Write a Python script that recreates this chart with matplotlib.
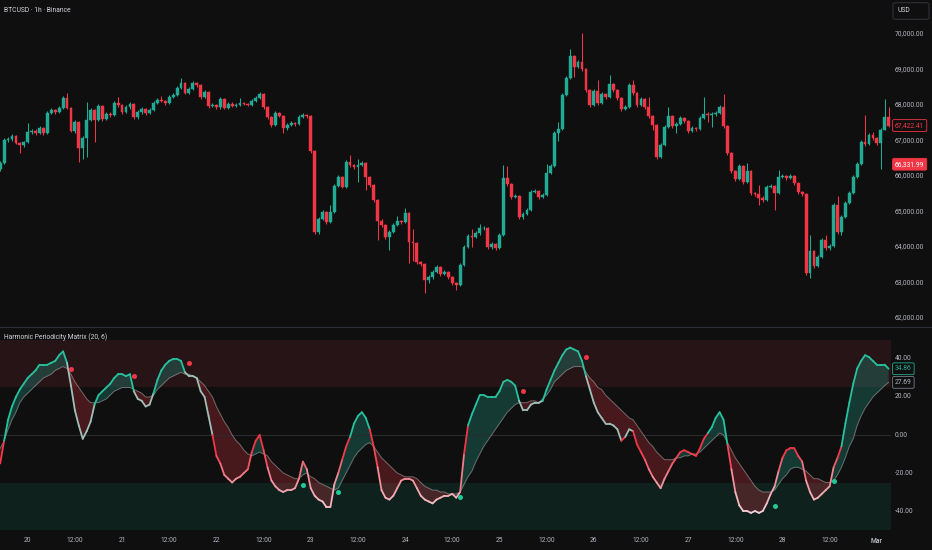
import matplotlib
matplotlib.use("Agg")
import matplotlib.pyplot as plt
import numpy as np
from matplotlib import transforms
from matplotlib.collections import LineCollection
from matplotlib.colors import LinearSegmentedColormap
from matplotlib.lines import Line2D
from matplotlib.patches import FancyBboxPatch

plt.rcParams['font.family'] = ['Roboto', 'DejaVu Sans']

# heures depuis le 20 fev 00:00, une bougie par heure
hours = list(range(-7, 220))
first_open = 66200
closes = [
    66370, 67010, 67040, 67130, 66930, 66870, 66960, 67240, 67270, 67220,
    67350, 67210, 67770, 67860, 67800, 67920, 68200, 67920, 67270, 67520,
    66790, 67070, 67580, 67860, 67580, 67970, 67610, 67750, 67720, 68060,
    68000, 67800, 67940, 68030, 67660, 67800, 67890, 67770, 67860, 68060,
    68140, 68120, 68060, 68230, 68280, 68480, 68620, 68340, 68450, 68620,
    68560, 68230, 68370, 67970, 68000, 67940, 68170, 67920, 68030, 67980,
    68000, 68060, 68030, 68010, 68110, 68200, 68310, 67940, 67660, 67440,
    67770, 67700, 67350, 67440, 67490, 67470, 67660, 67720, 67690, 66700,
    64420, 64790, 64990, 64700, 64990, 65720, 65970, 65690, 66390, 66310,
    66250, 66310, 66370, 65970, 65750, 65320, 64730, 64620, 64280, 64420,
    64620, 64730, 64700, 64960, 64140, 64110, 63580, 63520, 63070, 63160,
    63300, 63440, 63240, 63300, 63160, 62990, 62930, 63490, 64000, 64310,
    64280, 64390, 64530, 64540, 63990, 64080, 63960, 64340, 65940, 65780,
    65410, 65440, 64850, 64930, 65040, 65550, 65580, 65410, 65470, 66080,
    66280, 67210, 67320, 68280, 68760, 69380, 69070, 69210, 69010, 68420,
    68000, 68390, 68060, 68310, 68230, 68590, 68420, 68200, 67890, 67940,
    68560, 68340, 68000, 68170, 67940, 67690, 67440, 66540, 66870, 67380,
    67690, 67410, 67470, 67630, 67550, 67270, 67350, 67320, 67630, 67750,
    67720, 67750, 67770, 67940, 67410, 66650, 66140, 65920, 66280, 65830,
    66140, 65520, 65490, 65380, 65330, 65690, 65720, 65520, 65970, 66000,
    65940, 66000, 65800, 65550, 65500, 63270, 63890, 63460, 63720, 64200,
    63970, 64030, 65180, 64420, 64850, 65240, 65520, 65970, 66340, 66960,
    66900, 67160, 67070, 66930, 67300, 67660, 67422.41,
]
highs = [
    66420, 67060, 67100, 67180, 67160, 66960, 67000, 67490, 67320, 67320,
    67400, 67380, 67820, 67920, 67890, 67970, 68260, 68340, 67940, 67580,
    67540, 67120, 68080, 67910, 67880, 68020, 67990, 67800, 67810, 68110,
    68230, 68030, 67990, 68080, 68060, 67860, 67940, 67920, 67910, 68120,
    68200, 68250, 68150, 68280, 68330, 68530, 68760, 68660, 68500, 68670,
    68650, 68590, 68420, 68400, 68060, 68030, 68220, 68200, 68080, 68080,
    68060, 68200, 68090, 68060, 68160, 68250, 68370, 68340, 67970, 67690,
    67820, 67800, 67730, 67490, 67540, 67530, 67710, 67770, 67760, 67720,
    66720, 64840, 65040, 65020, 65190, 65770, 66020, 66010, 66440, 66590,
    66340, 66480, 66420, 66400, 66000, 65780, 65350, 64780, 64650, 64470,
    64670, 64860, 64770, 65100, 64990, 64500, 64140, 63610, 63550, 63210,
    63350, 63490, 63470, 63350, 63330, 63190, 63020, 63540, 64050, 64360,
    64510, 64440, 64650, 64600, 64570, 64130, 64110, 64390, 66310, 66280,
    65810, 65490, 65470, 64980, 65090, 65600, 65630, 65610, 65520, 66340,
    66330, 67260, 67520, 68330, 68810, 69580, 69410, 69260, 70030, 69040,
    68450, 68440, 68700, 68360, 68340, 68840, 68620, 68450, 68230, 67990,
    68610, 68700, 68370, 68220, 68200, 68230, 67720, 67470, 66920, 67430,
    67940, 67720, 67520, 67680, 67660, 67580, 67400, 67380, 67680, 68230,
    67800, 67800, 67820, 68000, 68310, 67440, 66680, 66170, 66330, 66310,
    66370, 66170, 65560, 65750, 65430, 65740, 65770, 65750, 66170, 66050,
    66030, 66050, 66030, 65830, 65580, 65530, 64340, 63920, 63770, 64250,
    64340, 64080, 65240, 65440, 64900, 65290, 65570, 66020, 66390, 67010,
    67720, 67210, 67240, 67100, 67350, 68170, 67940,
]
lows = [
    66150, 66330, 66950, 66980, 66900, 66650, 66830, 66930, 67180, 67150,
    67190, 67150, 67180, 67740, 67740, 67770, 67890, 67880, 67230, 67220,
    66390, 66480, 66540, 67550, 66960, 67540, 67560, 67580, 67660, 67700,
    67950, 67740, 67770, 67900, 67600, 67620, 67760, 67720, 67740, 67830,
    68030, 68080, 68000, 68030, 68200, 68250, 68440, 68300, 68310, 68420,
    68520, 68180, 68200, 67920, 67940, 67890, 67900, 67880, 67890, 67940,
    67950, 67980, 67990, 67960, 67980, 68080, 68170, 67900, 67610, 67390,
    67400, 67660, 67210, 67310, 67420, 67420, 67440, 67630, 67640, 66650,
    64370, 64380, 64750, 64650, 64670, 64960, 65690, 65650, 65660, 66260,
    66200, 65830, 66280, 65600, 65700, 65270, 64200, 64570, 64230, 63920,
    64390, 64590, 64650, 64670, 63550, 63600, 63530, 63470, 62700, 62980,
    63100, 63260, 63190, 63200, 63110, 62940, 62780, 62900, 63460, 63970,
    63990, 64240, 64350, 64480, 63940, 63950, 63910, 63930, 64310, 65730,
    65360, 65380, 64790, 64800, 64900, 65010, 65520, 65360, 65380, 65440,
    66050, 66250, 67000, 67290, 68250, 68730, 68800, 69030, 68960, 68370,
    67950, 67970, 68010, 68030, 68180, 68200, 68370, 68150, 67840, 67860,
    67910, 68290, 67950, 67970, 67890, 67640, 67300, 66490, 66510, 66840,
    67350, 67360, 67210, 67440, 67500, 67220, 67240, 67270, 67290, 67600,
    67520, 67380, 67700, 67740, 67360, 66600, 66090, 65870, 65890, 65780,
    65800, 65470, 65440, 65180, 65280, 65300, 65650, 65040, 65490, 65940,
    65890, 65910, 65750, 65500, 65450, 63220, 63130, 63410, 63430, 63690,
    63920, 63920, 64000, 64370, 64340, 64820, 65210, 65490, 65940, 66310,
    66850, 66860, 67020, 66880, 66200, 67290, 67380,
]

# oscillateur (ligne rapide / ligne lente)
fast = [
    -15, -3, 8, 15, 20, 24, 27, 30, 32, 34,
    37, 37, 37, 38, 39, 42, 44, 38, 26, 13,
    5, -2, 2, 7, 16, 21, 23, 25, 27, 30,
    32, 32, 31, 32, 23, 19, 18, 15, 16, 22,
    29, 34, 37, 39, 40, 40, 39, 33, 31, 31,
    30, 23, 20, 10, 0, -11, -15, -21, -23, -25,
    -23, -22, -20, -18, -9, -3, 0, -8, -17, -24,
    -27, -29, -30, -29, -29, -28, -23, -14, -18, -28,
    -32, -34, -35, -38, -38, -26, -20, -13, -6, -1,
    6, 10, 12, 9, 3, -6, -17, -29, -33, -34,
    -32, -28, -24, -23, -23, -24, -28, -32, -34, -35,
    -36, -34, -33, -32, -32, -31, -33, -30, -10, 5,
    11, 16, 21, 21, 20, 20, 20, 23, 28, 29,
    28, 26, 18, 13, 13, 16, 17, 17, 18, 24,
    29, 34, 38, 42, 45, 46, 45, 44, 39, 31,
    24, 17, 12, 9, 6, 6, 5, 3, -3, -1,
    3, 2, -5, -9, -13, -18, -22, -25, -28, -23,
    -19, -15, -12, -9, -8, -9, -10, -11, -7, -2,
    1, 4, 9, 12, 8, -5, -18, -30, -37, -40,
    -40, -41, -40, -41, -40, -36, -31, -27, -19, -12,
    -8, -7, -7, -11, -14, -24, -30, -34, -33, -31,
    -29, -27, -17, -12, -6, 6, 17, 27, 35, 39,
    42, 41, 39, 37, 37, 37, 34.86,
]
slow = [
    -7, -3, 3, 8, 12, 17, 20, 22, 24, 26,
    28, 30, 31, 32, 34, 35, 36, 35, 32, 28,
    25, 22, 19, 17, 17, 17, 18, 19, 21, 23,
    24, 25, 25, 25, 24, 23, 22, 20, 20, 21,
    24, 26, 28, 30, 31, 32, 33, 32, 32, 31,
    30, 28, 26, 23, 20, 15, 11, 7, 4, 0,
    -3, -5, -8, -10, -11, -10, -9, -10, -11, -14,
    -16, -18, -20, -21, -22, -23, -23, -21, -20, -22,
    -23, -25, -26, -27, -28, -29, -28, -24, -20, -16,
    -12, -9, -7, -5, -4, -6, -9, -12, -14, -16,
    -18, -20, -21, -22, -22, -22, -23, -25, -27, -28,
    -29, -29, -30, -30, -31, -31, -31, -30, -26, -22,
    -19, -14, -10, -6, -3, 0, 3, 6, 9, 12,
    14, 16, 17, 17, 17, 18, 18, 17, 19, 21,
    24, 28, 30, 32, 34, 35, 36, 36, 36, 33,
    30, 28, 25, 24, 21, 19, 17, 15, 13, 11,
    9, 8, 5, 2, -1, -4, -6, -9, -11, -13,
    -13, -13, -12, -12, -11, -11, -10, -10, -9, -7,
    -5, -3, -1, 1, 0, -4, -8, -12, -15, -18,
    -21, -24, -27, -29, -30, -30, -30, -29, -26, -23,
    -21, -18, -17, -17, -18, -19, -21, -23, -23, -24,
    -25, -25, -24, -21, -17, -12, -6, -2, 5, 10,
    14, 17, 20, 22, 24, 26, 27.69,
]

# signaux (points)
sell_hours = [11, 27, 41, 126, 142]
sell_vals = [34.7, 31.2, 37.7, 23.3, 40.9]
buy_hours = [70, 79, 110, 190, 205]
buy_vals = [-26.3, -30.2, -32.8, -37.4, -24.2]

price_ticks = [62000, 63000, 64000, 65000, 66000, 67000, 68000, 69000, 70000]
osc_ticks = [40, 20, 0, -20, -40]
time_ticks = [0, 12, 24, 36, 48, 60, 72, 84, 96, 108, 120, 132, 144, 156, 168, 180, 192, 204, 216]
time_labels = ['20', '12:00', '21', '12:00', '22', '12:00', '23', '12:00', '24', '12:00',
               '25', '12:00', '26', '12:00', '27', '12:00', '28', '12:00', 'Mar']
last_price = 67422.41
other_price = 66331.99

BG = '#0f0f0f'
UP = '#22ab94'
DOWN = '#f23645'
TXT = '#b2b5be'
FS = 4.9
W, H = 932, 550

fig = plt.figure(figsize=(W / 100, H / 100), dpi=100, facecolor=BG)
ax1 = fig.add_axes([0, 1 - 326 / H, 891 / W, 326 / H])
ax2 = fig.add_axes([0, 1 - 532 / H, 891 / W, 205 / H])
for ax in (ax1, ax2):
    ax.set_xlim(-7.05, 219.6)
    ax.axis('off')
ax1.set_ylim(61775, 70958)
ax2.set_ylim(-51.05, 56.84)

# bougies
h = np.array(hours, float)
c = np.array(closes, float)
o = np.concatenate([[first_open], c[:-1]])
hi = np.maximum(np.array(highs, float), np.maximum(o, c))
lo = np.minimum(np.array(lows, float), np.minimum(o, c))
cols = np.where(c >= o, UP, DOWN)
ax1.vlines(h, lo, hi, colors=cols, lw=0.75)
ax1.bar(h, np.abs(c - o), bottom=np.minimum(o, c), width=0.72,
        color=cols, edgecolor=cols, linewidth=0.3)

# oscillateur
f = np.array(fast, float)
s = np.array(slow, float)
ax2.axhspan(25, 50, color='#261416', lw=0)
ax2.axhspan(-50, -25, color='#0f211d', lw=0)
ax2.axhline(0, color='#2a2b30', lw=0.8)
ax2.fill_between(h, f, s, where=f >= s, interpolate=True, color=UP, alpha=0.28, lw=0)
ax2.fill_between(h, f, s, where=f < s, interpolate=True, color=DOWN, alpha=0.25, lw=0)
ax2.plot(h, s, color='#d0d0d0', alpha=0.45, lw=0.7)

neg_cmap = LinearSegmentedColormap.from_list(
    'neg', [(0, '#f3d6da'), (0.45, '#ef8f9a'), (0.8, DOWN), (1, DOWN)])
segs, seg_cols = [], []
for i in range(len(h) - 1):
    segs.append([(h[i], f[i]), (h[i + 1], f[i + 1])])
    v = (f[i] + f[i + 1]) / 2
    above = v > (s[i] + s[i + 1]) / 2
    if v < 0:
        seg_cols.append(neg_cmap(min(max((v + 42) / 42, 0), 1)))
    elif above:
        seg_cols.append('#26c29f')
    else:
        seg_cols.append('#9fbfb7')
ax2.add_collection(LineCollection(segs, colors=seg_cols, linewidths=1.3, capstyle='round'))
ax2.scatter(sell_hours, sell_vals, s=13, color=DOWN, lw=0, zorder=5)
ax2.scatter(buy_hours, buy_vals, s=13, color='#22c997', lw=0, zorder=5)

# textes
fig.text(4 / W, 1 - 10.7 / H, 'BTCUSD · 1h · Binance', color='#d1d4dc', fontsize=FS, va='center')
fig.text(4 / W, 1 - 337.5 / H, 'Harmonic Periodicity Matrix (20, 6)', color='#d1d4dc',
         fontsize=FS, va='center')
fig.add_artist(FancyBboxPatch((893 / W, 1 - 19.3 / H), 36 / W, 16.6 / H,
                              boxstyle='round,pad=0,rounding_size=0.003',
                              transform=fig.transFigure, fc=BG, ec='#2f3137', lw=0.8))
fig.text(897 / W, 1 - 11 / H, 'USD', color='#d1d4dc', fontsize=FS, va='center')

tr1 = transforms.blended_transform_factory(fig.transFigure, ax1.transData)
for p in price_ticks:
    fig.text(895 / W, p, f'{p:,.2f}', transform=tr1, color=TXT, fontsize=FS, va='center')
fig.text(895 / W, last_price, f'{last_price:,.2f}', transform=tr1, color=DOWN, fontsize=FS,
         va='center', bbox=dict(boxstyle='round,pad=0.35,rounding_size=0.2', fc=BG, ec=DOWN, lw=0.6))
fig.text(895 / W, other_price, f'{other_price:,.2f}', transform=tr1, color='white', fontsize=FS,
         va='center', bbox=dict(boxstyle='round,pad=0.35,rounding_size=0.2', fc=DOWN, ec=DOWN, lw=0.6))

tr2 = transforms.blended_transform_factory(fig.transFigure, ax2.transData)
for v in osc_ticks:
    fig.text(895 / W, v, f'{v:.2f}', transform=tr2, color=TXT, fontsize=FS, va='center')
fig.text(895 / W, f[-1], f'{f[-1]:.2f}', transform=tr2, color=UP, fontsize=FS, va='center',
         bbox=dict(boxstyle='round,pad=0.35,rounding_size=0.2', fc=BG, ec=UP, lw=0.6))
fig.text(895 / W, s[-1], f'{s[-1]:.2f}', transform=tr2, color=TXT, fontsize=FS, va='center',
         bbox=dict(boxstyle='round,pad=0.35,rounding_size=0.2', fc=BG, ec='#787b86', lw=0.6))

tr3 = transforms.blended_transform_factory(ax2.transData, fig.transFigure)
for t, lab in zip(time_ticks, time_labels):
    fig.text(t, 1 - 541 / H, lab, transform=tr3, color=TXT, fontsize=FS, ha='center', va='center',
             fontweight='bold' if lab == 'Mar' else 'normal')

fig.add_artist(Line2D([0, 1], [1 - 326.5 / H] * 2, color='#2a2e39', lw=0.8))

fig.savefig('out.png', dpi=100, facecolor=BG)
